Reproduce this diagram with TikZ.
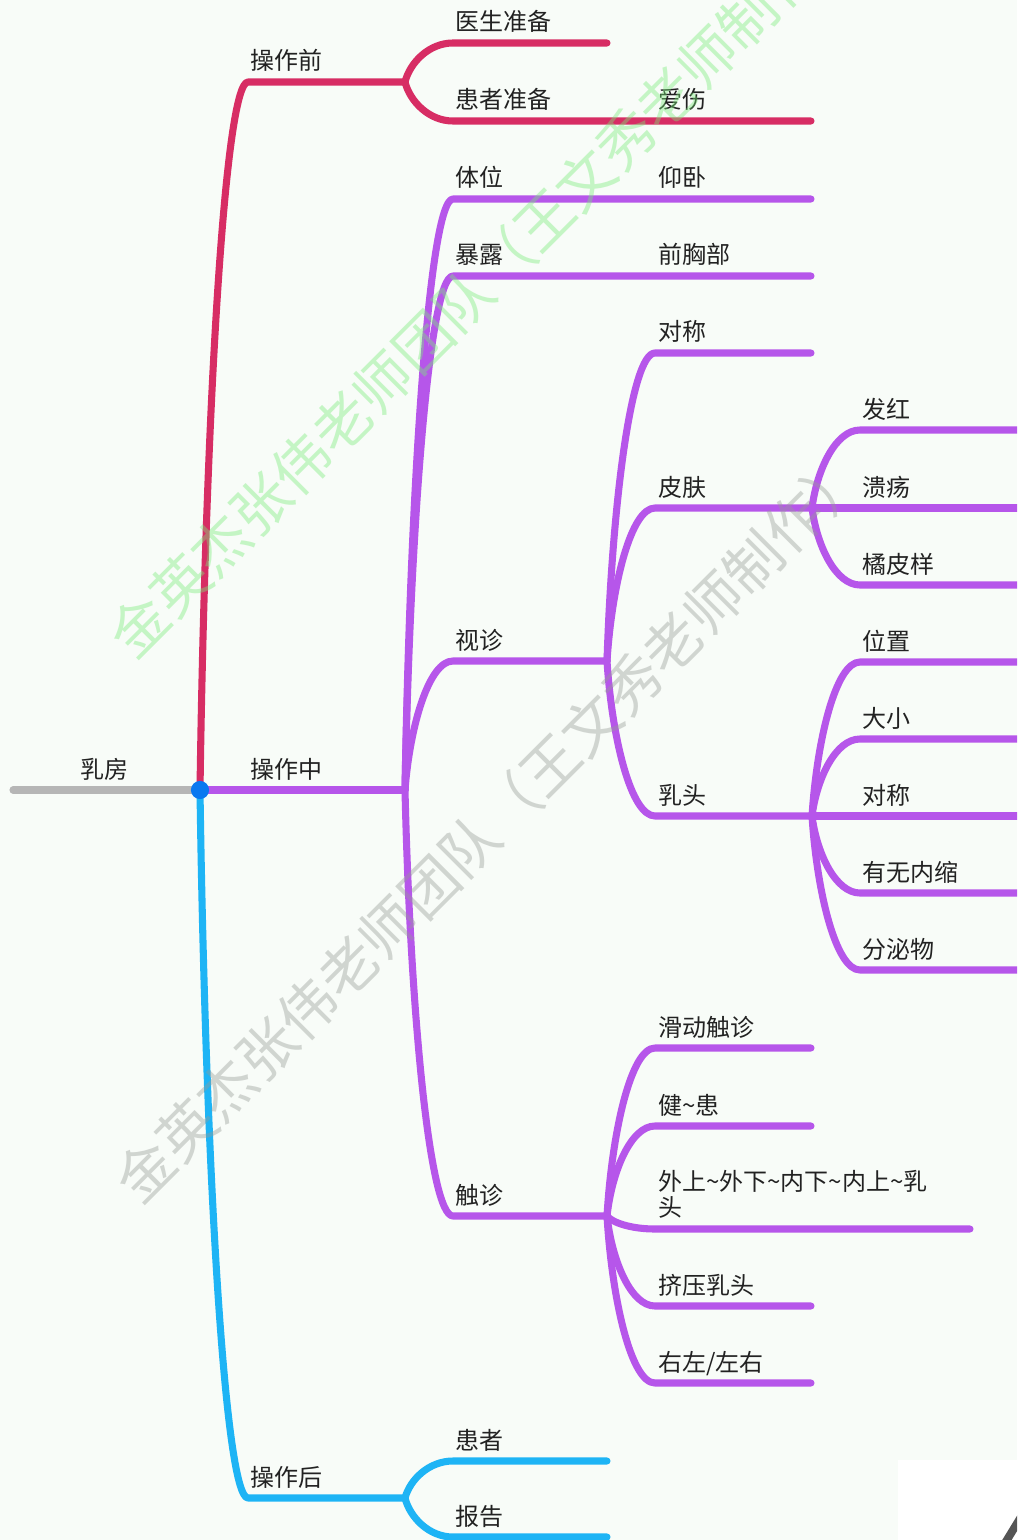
\documentclass[tikz,border=0pt]{standalone}
\usepackage{fontspec}
\setmainfont{Noto Sans CJK SC}
\usetikzlibrary{calc}
\definecolor{bgc}{RGB}{248,252,248}
\definecolor{redc}{RGB}{215,45,100}
\definecolor{purc}{RGB}{182,86,234}
\definecolor{bluc}{RGB}{30,180,245}
\definecolor{rootc}{RGB}{182,182,182}
\definecolor{dotc}{RGB}{10,120,240}
\definecolor{txtc}{RGB}{34,34,34}
\definecolor{wmgreen}{RGB}{120,235,120}
\definecolor{wmgrey}{RGB}{150,155,150}
\tikzset{
  branch/.style={to path={let \p1=(\tikztostart), \p2=(\tikztotarget) in
     .. controls (\x1+3.75pt,{(\y1+\y2)/2}) and (\x1+18pt,\y2) .. (\x1+36pt,\y2)
     -- (\tikztotarget) \tikztonodes}},
  conn/.style={line width=5.3pt, line cap=round, line join=round},
  redline/.style={conn, draw=redc},
  purline/.style={conn, draw=purc},
  bluline/.style={conn, draw=bluc},
  lbl/.style={anchor=base west, inner sep=0pt, text=txtc, font=\fontsize{18}{20}\selectfont},
  wmark/.style={rotate=45, inner sep=0pt, opacity=0.4, font=\fontsize{43}{46}\selectfont}
}
\begin{document}
\begin{tikzpicture}[x=0.75pt,y=-0.75pt]
\useasboundingbox (0,0) rectangle (1017,1540);
\fill[bgc] (0,0) rectangle (1017,1540);
\clip (0,0) rectangle (1017,1540);

% ---- coordinates ----
\coordinate (start) at (13,790);
\coordinate (root) at (200,790);
\coordinate (qian) at (405,82);
\coordinate (zhong) at (405,790);
\coordinate (hou) at (405,1498);
% red children
\coordinate (yisheng) at (607,43);
\coordinate (aishang) at (811,121);
% purple level 2
\coordinate (tiwei) at (811,199);
\coordinate (baolu) at (811,276);
\coordinate (shizhen) at (607,661);
\coordinate (chuzhen) at (607,1216);
% shizhen children
\coordinate (duichenA) at (811,353);
\coordinate (pifu) at (812,508);
\coordinate (rutou) at (812,816);
% pifu children
\coordinate (fahong) at (1030,430);
\coordinate (kuiyang) at (1030,508);
\coordinate (jupi) at (1030,585);
% rutou children
\coordinate (weizhi) at (1030,662);
\coordinate (daxiao) at (1030,739);
\coordinate (duichenB) at (1030,816);
\coordinate (neisuo) at (1030,893);
\coordinate (fenmi) at (1030,970);
% chuzhen children
\coordinate (huadong) at (811,1048);
\coordinate (jianhuan) at (811,1126);
\coordinate (waishang) at (970,1229);
\coordinate (jiya) at (811,1306);
\coordinate (youzuo) at (811,1383);
% blue children
\coordinate (huanzhe) at (607,1461);
\coordinate (baogao) at (607,1537);

% ---- connectors ----
\draw[conn, draw=rootc] (start) -- (root);
% red
\draw[redline] (root) to[branch] (qian);
\draw[redline] (qian) to[branch] (yisheng);
\draw[redline] (qian) to[branch] (aishang);
% purple
\draw[purline] (root) -- (zhong);
\draw[purline] (zhong) to[branch] (tiwei);
\draw[purline] (zhong) to[branch] (baolu);
\draw[purline] (zhong) to[branch] (shizhen);
\draw[purline] (zhong) to[branch] (chuzhen);
\draw[purline] (shizhen) to[branch] (duichenA);
\draw[purline] (shizhen) to[branch] (pifu);
\draw[purline] (shizhen) to[branch] (rutou);
\draw[purline] (pifu) to[branch] (fahong);
\draw[purline] (pifu) to[branch] (kuiyang);
\draw[purline] (pifu) to[branch] (jupi);
\draw[purline] (rutou) to[branch] (weizhi);
\draw[purline] (rutou) to[branch] (daxiao);
\draw[purline] (rutou) to[branch] (duichenB);
\draw[purline] (rutou) to[branch] (neisuo);
\draw[purline] (rutou) to[branch] (fenmi);
\draw[purline] (chuzhen) to[branch] (huadong);
\draw[purline] (chuzhen) to[branch] (jianhuan);
\draw[purline] (chuzhen) to[branch] (waishang);
\draw[purline] (chuzhen) to[branch] (jiya);
\draw[purline] (chuzhen) to[branch] (youzuo);
% blue
\draw[bluline] (root) to[branch] (hou);
\draw[bluline] (hou) to[branch] (huanzhe);
\draw[bluline] (hou) to[branch] (baogao);
% centre dot
\fill[dotc] (root) circle[radius=6.8pt];

% ---- labels ----
\node[lbl] (tRufang) at (80,778) {乳房};
\node[lbl] (tQian) at (250,70) {操作前};
\node[lbl] (tZhong) at (250,778) {操作中};
\node[lbl] (tHou) at (250,1486) {操作后};
\node[lbl] (tYisheng) at (455,31) {医生准备};
\node[lbl] (tHuanzhebei) at (455,109) {患者准备};
\node[lbl] (tAishang) at (658,109) {爱伤};
\node[lbl] (tTiwei) at (455,187) {体位};
\node[lbl] (tYangwo) at (658,187) {仰卧};
\node[lbl] (tBaolu) at (455,264) {暴露};
\node[lbl] (tQianxiong) at (658,264) {前胸部};
\node[lbl] (tShizhen) at (455,649) {视诊};
\node[lbl] (tChuzhen) at (455,1204) {触诊};
\node[lbl] (tDuichenA) at (658,341) {对称};
\node[lbl] (tPifu) at (658,496) {皮肤};
\node[lbl] (tRutou) at (658,804) {乳头};
\node[lbl] (tFahong) at (862,418) {发红};
\node[lbl] (tKuiyang) at (862,496) {溃疡};
\node[lbl] (tJupi) at (862,573) {橘皮样};
\node[lbl] (tWeizhi) at (862,650) {位置};
\node[lbl] (tDaxiao) at (862,727) {大小};
\node[lbl] (tDuichenB) at (862,804) {对称};
\node[lbl] (tNeisuo) at (862,881) {有无内缩};
\node[lbl] (tFenmi) at (862,958) {分泌物};
\node[lbl] (tHuadong) at (658,1036) {滑动触诊};
\node[lbl] (tJianhuan) at (658,1114) {健\textasciitilde 患};
\node[lbl] (tWaishangA) at (658,1190) {外上\textasciitilde 外下\textasciitilde 内下\textasciitilde 内上\textasciitilde 乳};
\node[lbl] (tWaishangB) at (658,1216) {头};
\node[lbl] (tJiya) at (658,1294) {挤压乳头};
\node[lbl] (tYouzuo) at (658,1371) {右左/左右};
\node[lbl] (tHuanzhe) at (455,1449) {患者};
\node[lbl] (tBaogao) at (455,1525) {报告};

% ---- watermarks ----
\node[wmark, text=wmgreen] (wmA) at (484,281) {金英杰张伟老师团队（王文秀老师制作）};
\node[wmark, text=wmgrey] (wmB) at (490,826) {金英杰张伟老师团队（王文秀老师制作）};

% ---- corner artefact ----
\fill[white] (898,1460) rectangle (1017,1540);
\draw[line width=6pt, draw={rgb,255:red,85;green,85;blue,85}] (1002,1548) -- (1024,1512);
\end{tikzpicture}
\end{document}
